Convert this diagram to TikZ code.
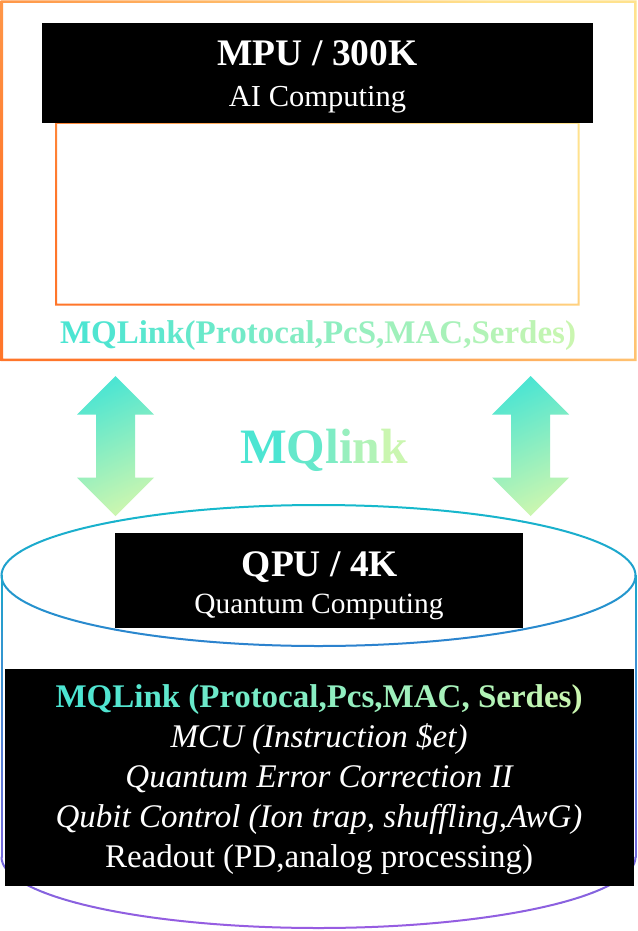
\documentclass[tikz,border=0pt]{standalone}
\usepackage{fontspec}
\setmainfont{Liberation Serif}
\usetikzlibrary{positioning}

\definecolor{warmA}{RGB}{255,118,42}
\definecolor{warmB}{RGB}{255,226,142}
\definecolor{mqA}{RGB}{76,229,210}
\definecolor{mqE}{RGB}{202,246,176}
\definecolor{cylA}{RGB}{22,186,204}
\definecolor{cylB}{RGB}{44,130,206}
\definecolor{cylC}{RGB}{152,92,226}
\colorlet{sideA}{cylA!60!cylB}
\colorlet{sideB}{cylB!35!cylC}

% gradient text, one colour step per character
\ExplSyntaxOn
\int_new:N \l_mq_len_int
\int_new:N \l_mq_pos_int
\NewDocumentCommand \mqgrad { m }
  {
    \int_set:Nn \l_mq_len_int { \str_count:n {#1} }
    \int_zero:N \l_mq_pos_int
    \str_map_inline:nn {#1}
      {
        \int_incr:N \l_mq_pos_int
        \exp_args:Nx \color
          { mqE!\int_eval:n { 100 * (\l_mq_pos_int - 1) / (\l_mq_len_int - 1) }!mqA }
        \scan_stop: ##1
      }
  }
\ExplSyntaxOff

\tikzset{
    warmframe/.style={even odd rule, bottom color=warmA, top color=warmB, shading angle=-45},
    linkarrow/.style={top color=mqA, bottom color=mqE, shading angle=25},
    rim/.style={line width=2pt, line cap=round},
    blackbox/.style={fill=black, inner sep=0pt},
    title/.style={anchor=base, text=white, font=\bfseries\fontsize{37.5}{45}\selectfont},
    subtitle/.style={anchor=base, text=white, font=\fontsize{30}{36}\selectfont},
    stackline/.style={anchor=base, text=white, font=\fontsize{33}{40}\selectfont},
    linklabel/.style={anchor=base, font=\bfseries\fontsize{33}{40}\selectfont},
}

\begin{document}
\begin{tikzpicture}[x=1pt, y=-1pt]
    \useasboundingbox [fill=white] (0,0) rectangle (637,931);

    % MPU side
    \shade [warmframe] (0.5,0.5) rectangle (636.5,361) (3,3) rectangle (634,358.5);
    \shade [warmframe] (55,122) rectangle (579.5,305.5) (57,124) rectangle (577.5,303.5);

    \node [blackbox,
        minimum width=551pt,
        minimum height=100pt
    ] (mpu) at (317.5,73) {};
    \node [title] (mputitle) at (317.5,66) {MPU / 300K};
    \node [subtitle, font=\fontsize{30.5}{36}\selectfont] (mpusub) at (317.5,107) {AI Computing};
    \node [linklabel] (mpulink) at (318,343) {\mqgrad{MQLink(Protocal,PcS,MAC,Serdes)}};

    % link arrows
    \foreach \cx in {115.5, 530.5} {
        \shade [linkarrow] (\cx,376) -- ++(38.5,38.5) -- ++(-19,0) -- ++(0,63)
            -- ++(19,0) -- ++(-38.5,38.5) -- ++(-38.5,-38.5) -- ++(19,0)
            -- ++(0,-63) -- ++(-19,0) -- cycle;
    }
    \node [linklabel, font=\bfseries\fontsize{49.5}{56}\selectfont] (mqlink) at (324,463) {\mqgrad{MQlink}};

    % cylinder
    \coordinate (cyltop) at (318.5,575.5);
    \coordinate (cylbot) at (318.5,857);
    \foreach \a in {0,10,...,350} {
        \pgfmathtruncatemacro{\p}{50+50*sin(\a+5)}
        \draw [rim, cylA!\p!cylB] ([shift={(\a:317pt and 70.5pt)}]cyltop)
            arc [start angle=\a, delta angle=10, x radius=317pt, y radius=70.5pt];
    }
    \foreach \i in {0,...,9} {
        \pgfmathtruncatemacro{\p}{100-\i*11}
        \draw [rim, sideA!\p!sideB] (1.5,575.5+\i*28.15) -- ++(0,28.15);
        \draw [rim, sideA!\p!sideB] (635.5,575.5+\i*28.15) -- ++(0,28.15);
    }
    \foreach \a in {180,190,...,350} {
        \pgfmathtruncatemacro{\p}{100*abs(sin(\a+5))}
        \draw [rim, cylC!\p!sideB] ([shift={(\a:317pt and 71pt)}]cylbot)
            arc [start angle=\a, delta angle=10, x radius=317pt, y radius=71pt];
    }

    % QPU side
    \node [blackbox,
        minimum width=408pt,
        minimum height=95pt
    ] (qpu) at (319,580.5) {};
    \node [title] (qputitle) at (320,576) {QPU / 4K};
    \node [subtitle, font=\fontsize{29.4}{35}\selectfont] (qpusub) at (319,613) {Quantum Computing};

    \node [blackbox,
        minimum width=629pt,
        minimum height=217pt
    ] (qstack) at (319.5,777.5) {};
    \node [linklabel] (stacklink) at (319,707) {\mqgrad{MQLink (Protocal,Pcs,MAC, Serdes)}};
    \node [stackline, font=\itshape\fontsize{33}{40}\selectfont] (mcu) at (319,747) {MCU (Instruction \$et)};
    \node [stackline, font=\itshape\fontsize{33}{40}\selectfont] (qec) at (319,787) {Quantum Error Correction II};
    \node [stackline, font=\itshape\fontsize{33}{40}\selectfont] (qubit) at (319,827) {Qubit Control (Ion trap, shuffling,AwG)};
    \node [stackline] (readout) at (319,867) {Readout (PD,analog processing)};
\end{tikzpicture}
\end{document}
